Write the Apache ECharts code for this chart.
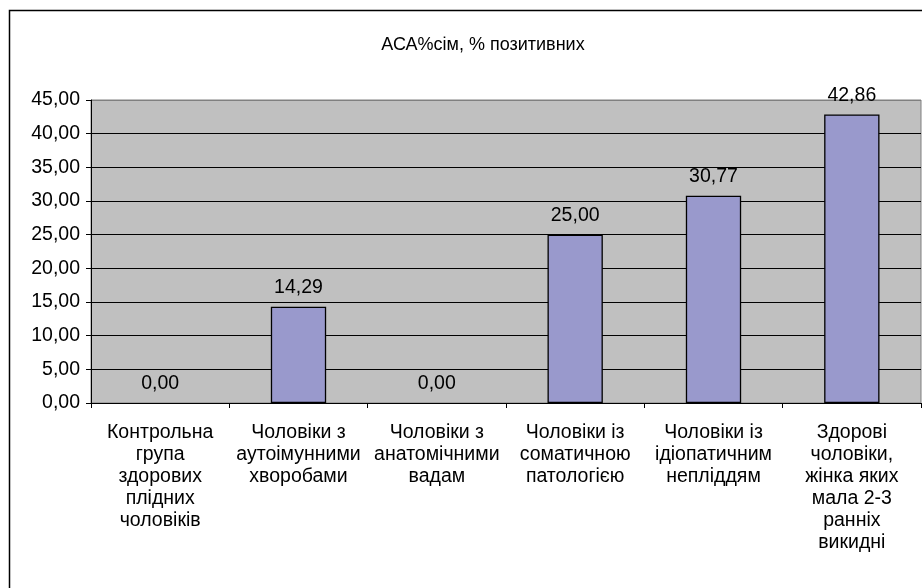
<!DOCTYPE html>
<html>
<head>
<meta charset="utf-8">
<script src="https://cdn.jsdelivr.net/npm/echarts@6/dist/echarts.min.js"></script>
<style>
  html, body { margin: 0; padding: 0; background: #fff; }
  #chart { width: 922px; height: 588px; }
</style>
</head>
<body>
<div id="chart"></div>
<script>
const titleText = "АСА%сім, % позитивних";
const categories = [
  "Контрольна\nгрупа\nздорових\nплідних\nчоловіків",
  "Чоловіки з\nаутоімунними\nхворобами",
  "Чоловіки з\nанатомічними\nвадам",
  "Чоловіки із\nсоматичною\nпатологією",
  "Чоловіки із\nідіопатичним\nнеплiддям",
  "Здорові\nчоловіки,\nжінка яких\nмала 2-3\nранніх\nвикидні",
];
const values = [0.0, 14.29, 0.0, 25.0, 30.77, 42.86];
const yMin = 0;
const yMax = 45;
const yStep = 5;

const font = "'Liberation Sans', Arial, sans-serif";
const fs = 19.5;
const fmt = (v) => Number(v).toFixed(2).replace(".", ",");

// zero-height bars show no outline in the original
const barData = values.map((v) =>
  v === 0 ? { value: v, itemStyle: { borderWidth: 0 } } : v
);

const chart = echarts.init(document.getElementById("chart"));
chart.setOption({
  animation: false,
  graphic: [
    {
      type: "rect",
      shape: { x: 9.5, y: 10.5, width: 940, height: 600 },
      style: { fill: "none", stroke: "#000", lineWidth: 1.5 },
      z: -1,
    },
  ],
  title: {
    text: titleText,
    left: 478,
    top: 31,
    textAlign: "center",
    textStyle: { fontFamily: font, fontSize: 18, fontWeight: "normal", color: "#000" },
  },
  grid: {
    left: 91,
    right: 1,
    top: 100,
    bottom: 185,
    show: true,
    backgroundColor: "#c0c0c0",
    borderColor: "#808080",
    borderWidth: 1,
  },
  xAxis: {
    type: "category",
    data: categories,
    axisLine: { lineStyle: { color: "#000", width: 1 } },
    axisTick: { show: true, length: 5, lineStyle: { color: "#000" } },
    axisLabel: {
      interval: 0,
      margin: 19,
      fontFamily: font,
      fontSize: fs,
      lineHeight: 22,
      color: "#000",
      align: "center",
    },
  },
  yAxis: {
    type: "value",
    min: yMin,
    max: yMax,
    interval: yStep,
    axisLine: { show: true, lineStyle: { color: "#000", width: 1 } },
    axisTick: { show: true, length: 5, lineStyle: { color: "#000" } },
    axisLabel: {
      margin: 11,
      fontFamily: font,
      fontSize: fs,
      color: "#000",
      formatter: fmt,
    },
    splitLine: {
      lineStyle: {
        color: ["#000", "#000", "#000", "#000", "#000", "#000", "#000", "#000", "#000", "#808080"],
        width: 1,
      },
    },
  },
  series: [
    {
      type: "bar",
      data: barData,
      barWidth: "40%",
      itemStyle: { color: "#9999cc", borderColor: "#000", borderWidth: 1.3 },
      label: {
        show: true,
        position: "top",
        distance: 9,
        fontFamily: font,
        fontSize: fs,
        color: "#000",
        formatter: (p) => fmt(p.value),
      },
    },
  ],
});
</script>
</body>
</html>
